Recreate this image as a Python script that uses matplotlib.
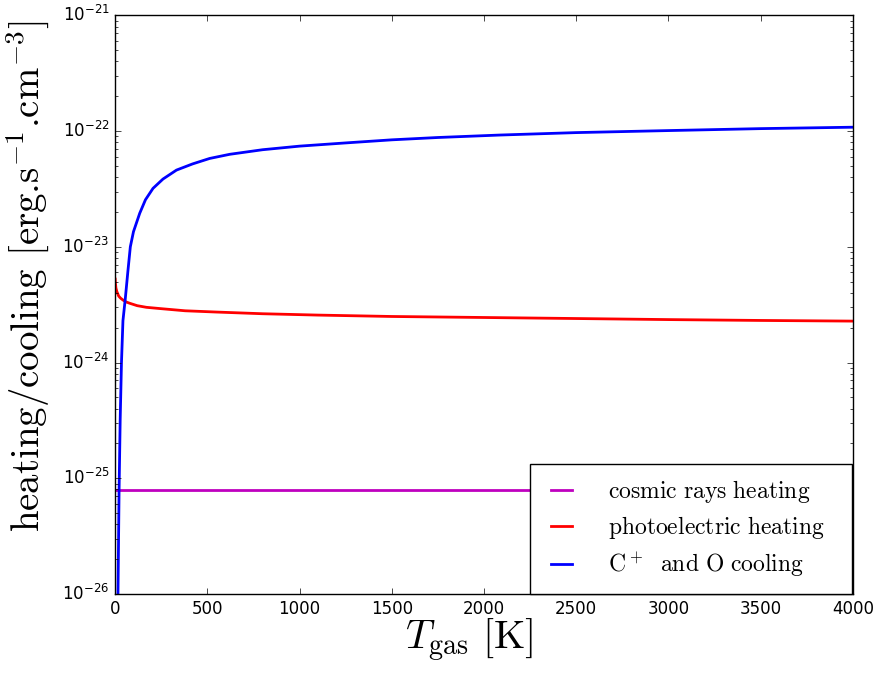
import matplotlib
matplotlib.use("Agg")
import matplotlib.pyplot as plt

plt.style.use('classic')
plt.rcParams['mathtext.fontset'] = 'cm'

# Temperature grid points (K) and read-off values (erg s^-1 cm^-3)
T_cosmic = [0, 4000]
cosmic_rays = [7.9e-26, 7.9e-26]

T_photo = [1, 2, 5, 10, 20, 30, 44, 62, 80, 120, 170, 250, 380, 550, 800,
           1100, 1500, 2000, 2500, 3000, 3500, 4000]
photoelectric = [5.26e-24, 4.9e-24, 4.40e-24, 4.1e-24, 3.75e-24, 3.6e-24,
                 3.46e-24, 3.33e-24, 3.25e-24, 3.10e-24, 3.0e-24, 2.92e-24,
                 2.8e-24, 2.73e-24, 2.64e-24, 2.57e-24, 2.5e-24, 2.45e-24,
                 2.4e-24, 2.35e-24, 2.31e-24, 2.28e-24]

T_cool = [10, 16, 22, 28, 35, 43, 56, 70, 83, 100, 134, 165, 206, 260, 333,
          420, 513, 622, 800, 1000, 1250, 1500, 1750, 2085, 2500, 3000, 3500,
          4000]
cooling = [1.0e-28, 1.0e-26, 7.8e-26, 3.2e-25, 1.0e-24, 2.3e-24, 3.6e-24,
           6.2e-24, 1.0e-23, 1.35e-23, 1.95e-23, 2.55e-23, 3.2e-23, 3.85e-23,
           4.6e-23, 5.2e-23, 5.8e-23, 6.3e-23, 6.9e-23, 7.41e-23, 7.9e-23,
           8.4e-23, 8.8e-23, 9.24e-23, 9.7e-23, 1.01e-22, 1.05e-22, 1.08e-22]

labels = [r'$\mathrm{cosmic\ rays\ heating}\ \ $',
          r'$\mathrm{photoelectric\ heating}\ \ $',
          r'$\mathrm{C^+\ \ and\ O\ cooling}\ \ $']

fig = plt.figure(figsize=(8.8, 6.73), dpi=100)
ax = fig.add_axes([0.1307, 0.1174, 0.8386, 0.8598])

ax.plot(T_cosmic, cosmic_rays, color='m', lw=2, label=labels[0])
ax.plot(T_photo, photoelectric, color='r', lw=2, label=labels[1])
ax.plot(T_cool, cooling, color='b', lw=2, label=labels[2])

ax.set_yscale('log')
ax.set_xlim(0, 4000)
ax.set_ylim(1e-26, 1e-21)

ax.set_xlabel(r'$T_{\rm gas}\ [\mathrm{K}]$', fontsize=29)
ax.xaxis.set_label_coords(0.48, -0.04)
ax.set_ylabel(r'heating/cooling [erg.s$^{-1}$.cm$^{-3}$]', fontsize=28,
              fontname='cmr10')
ax.yaxis.set_label_coords(-0.087, 0.55)

ax.legend(loc='lower left', bbox_to_anchor=(0.5623, 0.0, 0.4363, 0.2228),
          mode='expand', fontsize=17, handlelength=1.5, handletextpad=1.2,
          labelspacing=0.4, borderpad=0.6, borderaxespad=0.0)

fig.savefig('out.png', dpi=100)
